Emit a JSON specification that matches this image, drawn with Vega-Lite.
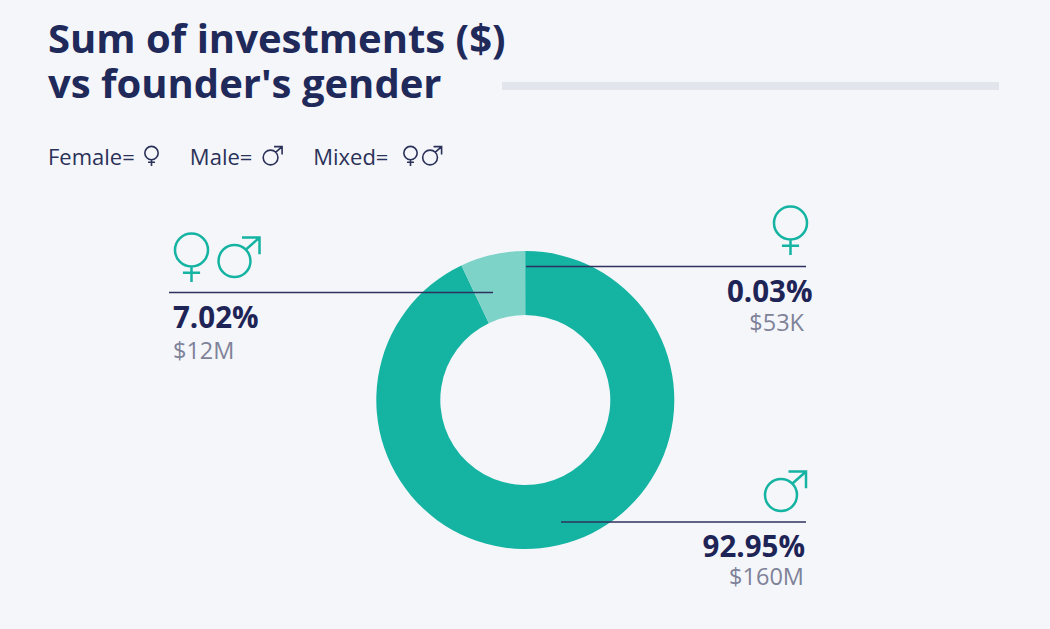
{"$schema":"https://vega.github.io/schema/vega-lite/v6.json","width":1050,"height":629,"autosize":"none","padding":0,"background":"#f4f6fa","config":{"view":{"stroke":null},"text":{"font":"Open Sans"}},
"title":{"text":["Sum of investments ($)","vs founder's gender"],"subtitle":"Female=\u00a0\u00a0\u00a0\u00a0\u00a0\u00a0\u00a0\u00a0\u00a0\u2009Male=\u00a0\u00a0\u00a0\u00a0\u00a0\u00a0\u00a0\u00a0\u00a0\u00a0\u2009Mixed=","anchor":"start","frame":"group","orient":"top","offset":0,"dx":48,"dy":169,"font":"Open Sans","fontSize":40,"fontWeight":"bold","color":"#1f2a5a","lineHeight":45,"subtitleFont":"Open Sans","subtitleFontSize":22,"subtitleColor":"#2b3158","subtitlePadding":42},
"data":{"values":[{"gender":"Male","share":0.9295,"amount":"$160M"},{"gender":"Mixed","share":0.0702,"amount":"$12M"},{"gender":"Female","share":0.0003,"amount":"$53K"}]},
"layer":[
{"mark":{"type":"arc","radius":149,"radius2":85},"encoding":{"theta":{"field":"share","type":"quantitative","stack":true},"order":{"field":"share","type":"quantitative","sort":"descending"},"color":{"field":"gender","type":"nominal","legend":null,"scale":{"domain":["Male","Mixed","Female"],"range":["#14b3a2","#7dd3c8","#14b3a2"]}},"x":{"datum":525.3,"type":"quantitative","axis":null,"scale":{"domain":[0,1050],"range":[0,1050],"nice":false,"zero":false}},"y":{"datum":400,"type":"quantitative","axis":null,"scale":{"domain":[0,629],"range":[0,629],"nice":false,"zero":false}}}},
{"transform":[{"filter":"datum.gender==='Male'"}],"mark":{"type":"rule","color":"#e3e5ec","strokeWidth":8},"encoding":{"x":{"datum":502,"axis":null},"x2":{"datum":999},"y":{"datum":86,"axis":null}}},
{"transform":[{"filter":"datum.gender==='Mixed'"}],"mark":{"type":"rule","color":"#2f325f","strokeWidth":1.5},"encoding":{"x":{"datum":169,"axis":null},"x2":{"datum":493},"y":{"datum":292.5,"axis":null}}},
{"transform":[{"filter":"datum.gender==='Female'"}],"mark":{"type":"rule","color":"#2f325f","strokeWidth":1.5},"encoding":{"x":{"datum":526,"axis":null},"x2":{"datum":806},"y":{"datum":266.5,"axis":null}}},
{"transform":[{"filter":"datum.gender==='Male'"}],"mark":{"type":"rule","color":"#2f325f","strokeWidth":1.5},"encoding":{"x":{"datum":561,"axis":null},"x2":{"datum":806},"y":{"datum":522,"axis":null}}},
{"transform":[{"filter":"datum.gender==='Mixed'"}],"mark":{"type":"text","align":"left","baseline":"alphabetic","fontSize":29.5,"fontWeight":"bold","color":"#1f2456"},"encoding":{"text":{"field":"share","type":"quantitative","format":".2%"},"x":{"datum":173,"axis":null},"y":{"datum":328,"axis":null}}},
{"transform":[{"filter":"datum.gender==='Female'"}],"mark":{"type":"text","align":"right","baseline":"alphabetic","fontSize":29.5,"fontWeight":"bold","color":"#1f2456"},"encoding":{"text":{"field":"share","type":"quantitative","format":".2%"},"x":{"datum":812.5,"axis":null},"y":{"datum":302,"axis":null}}},
{"transform":[{"filter":"datum.gender==='Male'"}],"mark":{"type":"text","align":"right","baseline":"alphabetic","fontSize":29.5,"fontWeight":"bold","color":"#1f2456"},"encoding":{"text":{"field":"share","type":"quantitative","format":".2%"},"x":{"datum":805,"axis":null},"y":{"datum":557,"axis":null}}},
{"transform":[{"filter":"datum.gender==='Mixed'"}],"mark":{"type":"text","align":"left","baseline":"alphabetic","fontSize":23.5,"color":"#7f8299"},"encoding":{"text":{"field":"amount"},"x":{"datum":173,"axis":null},"y":{"datum":358.5,"axis":null}}},
{"transform":[{"filter":"datum.gender==='Female'"}],"mark":{"type":"text","align":"right","baseline":"alphabetic","fontSize":23.5,"color":"#7f8299"},"encoding":{"text":{"field":"amount"},"x":{"datum":804,"axis":null},"y":{"datum":330.5,"axis":null}}},
{"transform":[{"filter":"datum.gender==='Male'"}],"mark":{"type":"text","align":"right","baseline":"alphabetic","fontSize":23.5,"color":"#7f8299"},"encoding":{"text":{"field":"amount"},"x":{"datum":804,"axis":null},"y":{"datum":584.5,"axis":null}}},
{"transform":[{"filter":"datum.gender==='Mixed'"}],"mark":{"type":"point","filled":false,"size":2704,"strokeWidth":2.5,"opacity":1,"color":"#14b3a2","shape":"M-0.635,-0.23 A0.635,0.635 0 1 1 0.635,-0.23 A0.635,0.635 0 1 1 -0.635,-0.23 M0,0.405 L0,1 M-0.33,0.645 L0.33,0.645"},"encoding":{"x":{"datum":191.5,"axis":null},"y":{"datum":256,"axis":null}}},
{"transform":[{"filter":"datum.gender==='Mixed'"}],"mark":{"type":"point","filled":false,"size":2704,"strokeWidth":2.5,"opacity":1,"color":"#14b3a2","shape":"M0.461,0.135 A0.615,0.615 0 1 1 -0.769,0.135 A0.615,0.615 0 1 1 0.461,0.135 M0.288,-0.308 L0.808,-0.77 M0.135,-0.77 L0.808,-0.77 L0.808,-0.123"},"encoding":{"x":{"datum":238.5,"axis":null},"y":{"datum":257.5,"axis":null}}},
{"transform":[{"filter":"datum.gender==='Female'"}],"mark":{"type":"point","filled":false,"size":2704,"strokeWidth":2.5,"opacity":1,"color":"#14b3a2","shape":"M-0.635,-0.23 A0.635,0.635 0 1 1 0.635,-0.23 A0.635,0.635 0 1 1 -0.635,-0.23 M0,0.405 L0,1 M-0.33,0.645 L0.33,0.645"},"encoding":{"x":{"datum":790.5,"axis":null},"y":{"datum":229,"axis":null}}},
{"transform":[{"filter":"datum.gender==='Male'"}],"mark":{"type":"point","filled":false,"size":2704,"strokeWidth":2.5,"opacity":1,"color":"#14b3a2","shape":"M0.461,0.135 A0.615,0.615 0 1 1 -0.769,0.135 A0.615,0.615 0 1 1 0.461,0.135 M0.288,-0.308 L0.808,-0.77 M0.135,-0.77 L0.808,-0.77 L0.808,-0.123"},"encoding":{"x":{"datum":785,"axis":null},"y":{"datum":491.5,"axis":null}}},
{"transform":[{"filter":"datum.gender==='Female'"}],"mark":{"type":"point","filled":false,"size":441,"strokeWidth":1.6,"opacity":1,"color":"#2b3158","shape":"M-0.635,-0.23 A0.635,0.635 0 1 1 0.635,-0.23 A0.635,0.635 0 1 1 -0.635,-0.23 M0,0.405 L0,1 M-0.33,0.645 L0.33,0.645"},"encoding":{"x":{"datum":151.5,"axis":null},"y":{"datum":155.5,"axis":null}}},
{"transform":[{"filter":"datum.gender==='Male'"}],"mark":{"type":"point","filled":false,"size":576,"strokeWidth":1.6,"opacity":1,"color":"#2b3158","shape":"M0.461,0.135 A0.615,0.615 0 1 1 -0.769,0.135 A0.615,0.615 0 1 1 0.461,0.135 M0.288,-0.308 L0.808,-0.77 M0.135,-0.77 L0.808,-0.77 L0.808,-0.123"},"encoding":{"x":{"datum":272.4,"axis":null},"y":{"datum":155.9,"axis":null}}},
{"transform":[{"filter":"datum.gender==='Mixed'"}],"mark":{"type":"point","filled":false,"size":441,"strokeWidth":1.6,"opacity":1,"color":"#2b3158","shape":"M-0.635,-0.23 A0.635,0.635 0 1 1 0.635,-0.23 A0.635,0.635 0 1 1 -0.635,-0.23 M0,0.405 L0,1 M-0.33,0.645 L0.33,0.645"},"encoding":{"x":{"datum":410.5,"axis":null},"y":{"datum":155.5,"axis":null}}},
{"transform":[{"filter":"datum.gender==='Mixed'"}],"mark":{"type":"point","filled":false,"size":576,"strokeWidth":1.6,"opacity":1,"color":"#2b3158","shape":"M0.461,0.135 A0.615,0.615 0 1 1 -0.769,0.135 A0.615,0.615 0 1 1 0.461,0.135 M0.288,-0.308 L0.808,-0.77 M0.135,-0.77 L0.808,-0.77 L0.808,-0.123"},"encoding":{"x":{"datum":431.9,"axis":null},"y":{"datum":155.9,"axis":null}}}
]}
